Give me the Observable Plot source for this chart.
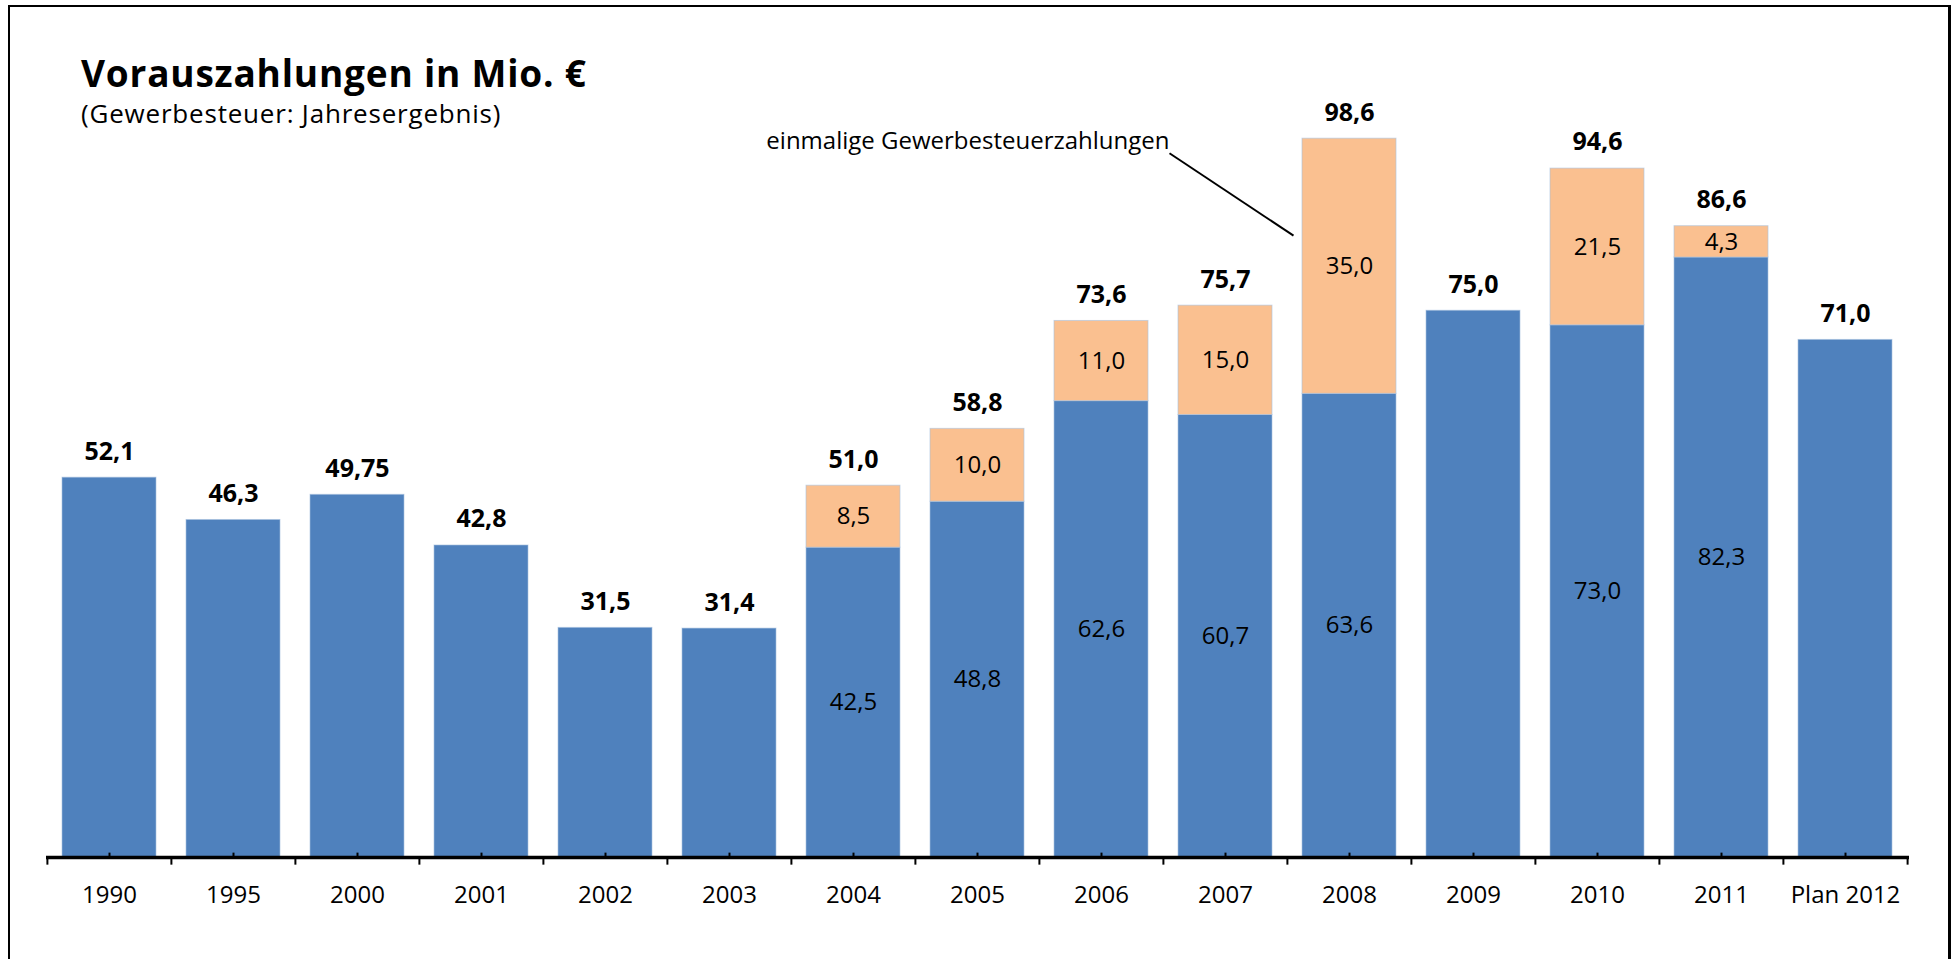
<!DOCTYPE html>
<html>
<head>
<meta charset="utf-8">
<script src="https://cdn.jsdelivr.net/npm/d3@7"></script>
<script src="https://cdn.jsdelivr.net/npm/@observablehq/plot@0.6"></script>
<style>
  html, body { margin: 0; padding: 0; background: #fff; overflow: hidden; }
  body { width: 1959px; height: 959px; position: relative; font-family: "Open Sans", sans-serif; }
  #frame { position: absolute; left: 8px; top: 5px; width: 1943px; height: 1000px;
           border-top: 2px solid #000; border-left: 2px solid #000; border-right: 3px solid #000; box-sizing: border-box; }
  #header { position: relative; height: 80px; z-index: 2; }
  #title { position: absolute; left: 81px; top: 54px; font-size: 37px; letter-spacing: 0.8px; font-weight: 700; line-height: 1; white-space: nowrap; color: #000; }
  #subtitle { position: absolute; left: 81px; top: 100px; font-size: 26px; letter-spacing: 0.8px; font-weight: 400; line-height: 1; white-space: nowrap; color: #000; }
  #chart { position: relative; z-index: 1; }
</style>
</head>
<body>
<div id="frame"></div>
<div id="header">
  <div id="title">Vorauszahlungen in Mio. €</div>
  <div id="subtitle">(Gewerbesteuer: Jahresergebnis)</div>
</div>
<div id="chart"></div>
<script>
// ---- data ----
const categories = ["1990", "1995", "2000", "2001", "2002", "2003", "2004", "2005", "2006", "2007", "2008", "2009", "2010", "2011", "Plan 2012"];
const baseValues = [52.1, 46.3, 49.75, 42.8, 31.5, 31.4, 42.5, 48.8, 62.6, 60.7, 63.6, 75.0, 73.0, 82.3, 71.0];
const oneTimeValues = [0, 0, 0, 0, 0, 0, 8.5, 10.0, 11.0, 15.0, 35.0, 0, 21.5, 4.3, 0];
const totalValues = [52.1, 46.3, 49.75, 42.8, 31.5, 31.4, 51.0, 58.8, 73.6, 75.7, 98.6, 75.0, 94.6, 86.6, 71.0];
const annotationText = "einmalige Gewerbesteuerzahlungen";
const annotationFrom = {cat: "2007", y: 96.6};
const annotationTo = {cat: "2008", y: 85.3};
const annotationTextY = 98.2;

// ---- derived tables ----
const segments = [];
categories.forEach((c, i) => {
  segments.push({cat: c, type: "Vorauszahlung", value: baseValues[i]});
  segments.push({cat: c, type: "einmalig", value: oneTimeValues[i]});
});
const rows = categories.map((c, i) => ({cat: c, base: baseValues[i], extra: oneTimeValues[i], total: totalValues[i]}));
const withExtra = rows.filter(r => r.extra > 0);

const fmt = new Intl.NumberFormat("de-DE", {minimumFractionDigits: 1, maximumFractionDigits: 2});

const W = 1959, H = 879;
const mL = 46, mR = 50, mT = 48, mB = 102;
const step = (W - mL - mR) / categories.length;

const chart = Plot.plot({
  width: W,
  height: H,
  marginLeft: mL,
  marginRight: mR,
  marginTop: mT,
  marginBottom: mB,
  style: {fontFamily: "Open Sans, sans-serif", fontSize: "24px", background: "transparent", color: "#000", overflow: "visible"},
  x: {domain: categories, paddingInner: 0.24, paddingOuter: 0.12, axis: null, label: null},
  y: {domain: [0, 100], axis: null},
  color: {domain: ["Vorauszahlung", "einmalig"], range: ["#4F81BD", "#FAC090"]},
  marks: [
    Plot.barY(segments, {x: "cat", y: "value", fill: "type", stroke: "#a9c1e0", strokeOpacity: 0.6, strokeWidth: 1, filter: d => d.value > 0}),
    // center ticks (upward, inside bars)
    Plot.ruleX(categories, {x: d => d, y1: 0, y2: 0.6, stroke: "#000", strokeWidth: 2}),
    // boundary ticks (downward)
    Plot.ruleX(categories, {x: d => d, y1: 0, y2: -1.05, dx: -step / 2, stroke: "#000", strokeWidth: 2}),
    Plot.ruleX([categories[categories.length - 1]], {x: d => d, y1: 0, y2: -1.05, dx: step / 2, stroke: "#000", strokeWidth: 2}),
    // axis line
    Plot.ruleY([0], {stroke: "#000", strokeWidth: 3.5}),
    // axis labels
    Plot.axisX({tickSize: 0, tickPadding: 28, fontSize: 24, fill: "#000", label: null}),
    // total labels
    Plot.text(rows, {x: "cat", y: "total", text: d => fmt.format(d.total), dy: -26, fontWeight: "bold", fontSize: 25, fill: "#000"}),
    // inside labels
    Plot.text(withExtra, {x: "cat", y: d => d.base / 2, text: d => fmt.format(d.base), fontSize: 24, fill: "#000"}),
    Plot.text(withExtra, {x: "cat", y: d => d.base + d.extra / 2, text: d => fmt.format(d.extra), fontSize: 24, fill: "#000"}),
    // annotation
    Plot.link([0], {x1: () => annotationFrom.cat, y1: () => annotationFrom.y, x2: () => annotationTo.cat, y2: () => annotationTo.y, dx: -56, stroke: "#000", strokeWidth: 2}),
    Plot.text([annotationText], {x: () => annotationFrom.cat, y: () => annotationTextY, text: d => d, textAnchor: "end", dx: -56, fontSize: 24, fill: "#000"})
  ]
});
document.getElementById("chart").appendChild(chart);
</script>
</body>
</html>
